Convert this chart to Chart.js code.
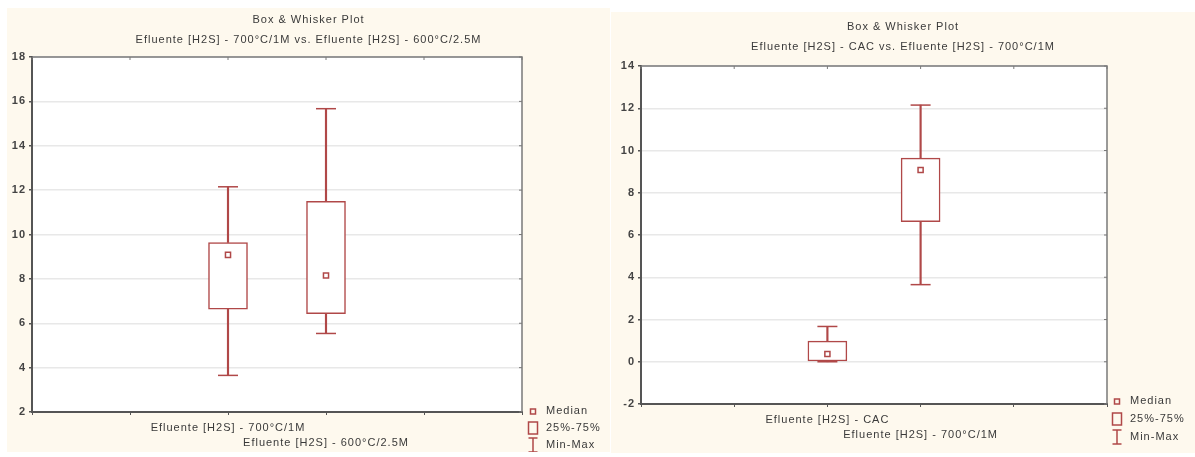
<!DOCTYPE html>
<html>
<head>
<meta charset="utf-8">
<script src="https://cdn.jsdelivr.net/npm/chart.js@4/dist/chart.umd.min.js"></script>
<style>
  html, body { margin: 0; padding: 0; background: #ffffff; }
  body { width: 1195px; height: 457px; position: relative; overflow: hidden; }
  .panel { position: absolute; background: #fef9ee; }
  canvas { display: block; }
</style>
</head>
<body>
<div class="panel" style="left:7px;top:8px;width:603px;height:444px"><canvas id="chartLeft" width="603" height="444"></canvas></div>
<div class="panel" style="left:611px;top:12px;width:584px;height:441px"><canvas id="chartRight" width="584" height="441"></canvas></div>
<script>
// ---- Left plot: 700°C/1M vs 600°C/2.5M ----
const leftCategories = ['Efluente [H2S] - 700°C/1M', 'Efluente [H2S] - 600°C/2.5M'];
const leftPositions = [2, 3];
const leftMin    = [3.65, 5.54];
const leftQ1     = [6.63, 6.43];
const leftMedian = [9.08, 8.15];
const leftQ3     = [9.64, 11.49];
const leftMax    = [12.15, 15.67];
const leftYTicks = [2, 4, 6, 8, 10, 12, 14, 16, 18];
const leftTitle  = 'Box & Whisker Plot';
const leftSubtitle = 'Efluente [H2S] - 700°C/1M vs. Efluente [H2S] - 600°C/2.5M';

// ---- Right plot: CAC vs 700°C/1M ----
const rightCategories = ['Efluente [H2S] - CAC', 'Efluente [H2S] - 700°C/1M'];
const rightPositions = [2, 3];
const rightMin    = [0, 3.65];
const rightQ1     = [0, 6.63];
const rightMedian = [0.37, 9.08];
const rightQ3     = [0.98, 9.64];
const rightMax    = [1.67, 12.15];
const rightYTicks = [-2, 0, 2, 4, 6, 8, 10, 12, 14];
const rightTitle  = 'Box & Whisker Plot';
const rightSubtitle = 'Efluente [H2S] - CAC vs. Efluente [H2S] - 700°C/1M';

// shared x slots (categories sit on slots 2 and 3)
const xTicks = [0, 1, 2, 3, 4, 5];
const legendLabels = ['Median', '25%-75%', 'Min-Max'];

const RED = '#b04848';
const FONT = "'Liberation Sans', Arial, sans-serif";
const TEXT = '#3a3a3a';

// Background, outer frame, titles and the legend block
const panelDecor = {
  id: 'panelDecor',
  beforeDraw(chart) {
    const a = chart.chartArea, ctx = chart.ctx;
    ctx.letterSpacing = '1px';
    ctx.save();
    ctx.fillStyle = '#ffffff';
    ctx.fillRect(a.left, a.top, a.right - a.left, a.bottom - a.top);
    ctx.restore();
  },
  afterDraw(chart, args, o) {
    const a = chart.chartArea, ctx = chart.ctx;
    const xs = chart.scales.x, ys = chart.scales.y;
    ctx.save();
    // top and right frame
    ctx.strokeStyle = '#7a7a7a';
    ctx.lineWidth = 1.5;
    ctx.beginPath();
    ctx.moveTo(a.left, a.top); ctx.lineTo(a.right, a.top); ctx.lineTo(a.right, a.bottom);
    ctx.stroke();
    ctx.lineWidth = 1;
    ctx.beginPath();
    xs.ticks.forEach(t => {
      const px = xs.getPixelForValue(t.value);
      ctx.moveTo(px, a.top); ctx.lineTo(px, a.top + 3);
    });
    ys.ticks.forEach(t => {
      const py = ys.getPixelForValue(t.value);
      ctx.moveTo(a.right, py); ctx.lineTo(a.right - 3, py);
    });
    ctx.stroke();

    // titles
    ctx.fillStyle = TEXT;
    ctx.font = '11px ' + FONT;
    ctx.textAlign = 'center';
    ctx.textBaseline = 'middle';
    ctx.fillText(o.title, chart.width / 2, o.titleY);
    ctx.fillText(o.subtitle, chart.width / 2, o.titleY + 20);

    // legend
    const lx = o.legendX, ly = o.legendY, gap = o.legendGap;
    ctx.strokeStyle = RED;
    ctx.lineWidth = 1.5;
    // median marker
    ctx.strokeRect(lx - 2.5, ly - 2, 5, 5);
    // box
    ctx.strokeRect(lx - 4.5, ly + gap - 6, 9, 12);
    // min-max bar
    const my = ly + 2 * gap;
    ctx.beginPath();
    ctx.moveTo(lx - 4.5, my - 7); ctx.lineTo(lx + 4.5, my - 7);
    ctx.moveTo(lx, my - 7); ctx.lineTo(lx, my + 7);
    ctx.moveTo(lx - 4.5, my + 7); ctx.lineTo(lx + 4.5, my + 7);
    ctx.stroke();
    ctx.fillStyle = TEXT;
    ctx.textAlign = 'left';
    legendLabels.forEach((t, i) => ctx.fillText(t, lx + 13, ly + i * gap));
    ctx.restore();
  }
};

function boxPlot(canvasId, s, g) {
  const pts = vals => s.positions.map((x, i) => ({ x, y: vals[i] }));
  const span = (lo, hi) => s.positions.map((x, i) => ({ x, y: [lo[i], hi[i]] }));
  return new Chart(document.getElementById(canvasId), {
    type: 'bar',
    data: {
      datasets: [
        { type: 'scatter', label: 'Median', data: pts(s.median), pointStyle: 'rect',
          pointRadius: 3.6, pointBackgroundColor: '#ffffff', pointBorderColor: RED, pointBorderWidth: 1.5 },
        { type: 'scatter', label: 'Min-Max', data: pts(s.min).concat(pts(s.max)), pointStyle: 'line',
          pointRadius: 10, pointBorderColor: RED, borderColor: RED, pointBorderWidth: 1.5 },
        { type: 'bar', label: '25%-75%', data: span(s.q1, s.q3), backgroundColor: '#ffffff',
          borderColor: RED, borderWidth: 1.5, borderSkipped: false, barThickness: 39, grouped: false },
        { type: 'bar', label: 'whisker-low', data: span(s.min, s.q1), backgroundColor: RED,
          borderWidth: 0, barThickness: 1.5, grouped: false },
        { type: 'bar', label: 'whisker-high', data: span(s.q3, s.max), backgroundColor: RED,
          borderWidth: 0, barThickness: 1.5, grouped: false }
      ]
    },
    options: {
      responsive: false,
      animation: false,
      events: [],
      layout: { padding: { left: 0, top: g.top, right: g.right, bottom: 0 } },
      plugins: {
        legend: { display: false },
        tooltip: { enabled: false },
        panelDecor: {
          title: s.title, subtitle: s.subtitle, titleY: g.titleY,
          legendX: g.legendX, legendY: g.legendY, legendGap: g.legendGap
        }
      },
      scales: {
        x: {
          type: 'linear', offset: false,
          min: xTicks[0], max: xTicks[xTicks.length - 1],
          afterBuildTicks: sc => { sc.ticks = xTicks.map(v => ({ value: v })); },
          afterFit: sc => { sc.height = g.xHeight; },
          ticks: {
            autoSkip: false, maxRotation: 0, minRotation: 0, padding: g.xPad,
            color: TEXT, font: { family: FONT, size: 11, lineHeight: 1.4 },
            callback: v => {
              const i = s.positions.indexOf(v);
              if (i < 0) return '';
              return i === 0 ? s.categories[i] : Array(i).fill('').concat(s.categories[i]);
            }
          },
          grid: { offset: false, drawOnChartArea: false, tickLength: 3, tickColor: '#555555' },
          border: { color: '#555555', width: 2 }
        },
        y: {
          type: 'linear', min: s.yTicks[0], max: s.yTicks[s.yTicks.length - 1],
          afterBuildTicks: sc => { sc.ticks = s.yTicks.map(v => ({ value: v })); },
          afterFit: sc => { sc.width = g.yWidth; },
          ticks: { padding: 3, color: '#444444', font: { family: FONT, size: 11, weight: 'bold' } },
          grid: { color: '#e8e8e8', lineWidth: 1.5, tickLength: 3, tickColor: '#555555' },
          border: { color: '#555555', width: 2 }
        }
      }
    },
    plugins: [panelDecor]
  });
}

boxPlot('chartLeft', {
  categories: leftCategories, positions: leftPositions,
  min: leftMin, q1: leftQ1, median: leftMedian, q3: leftQ3, max: leftMax,
  yTicks: leftYTicks, title: leftTitle, subtitle: leftSubtitle
}, { top: 49, right: 88, yWidth: 25, xHeight: 40, xPad: 5, titleY: 12,
     legendX: 526, legendY: 403, legendGap: 17 });

boxPlot('chartRight', {
  categories: rightCategories, positions: rightPositions,
  min: rightMin, q1: rightQ1, median: rightMedian, q3: rightQ3, max: rightMax,
  yTicks: rightYTicks, title: rightTitle, subtitle: rightSubtitle
}, { top: 54, right: 88, yWidth: 30, xHeight: 49, xPad: 5, titleY: 15,
     legendX: 506, legendY: 389, legendGap: 18 });
</script>
</body>
</html>
